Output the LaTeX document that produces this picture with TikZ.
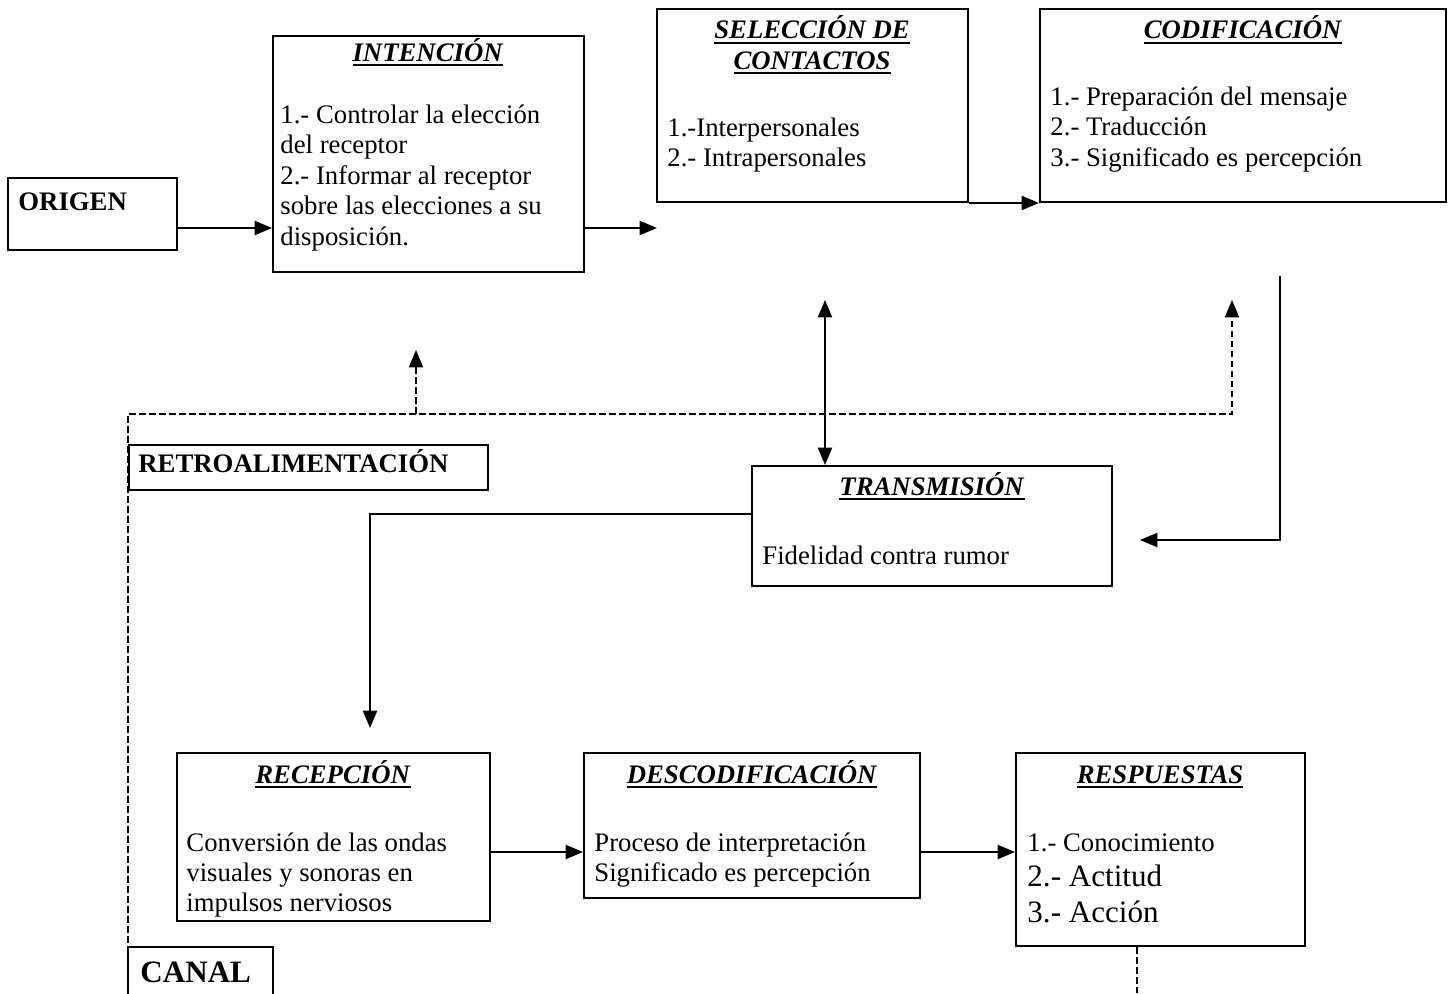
\documentclass[tikz,border=0pt]{standalone}
\usepackage{fontspec}
\setmainfont{Liberation Serif}
\usetikzlibrary{arrows.meta,fit}
\newcommand{\ttl}[1]{\vtop{\hbox{\textbf{\textit{#1}}}\kern1.3pt\hrule height 1pt}}
\begin{document}
\begin{tikzpicture}[x=0.46pt,y=-0.46pt,
  box/.style={draw,line width=0.9pt,inner sep=0pt},
  txt/.style={anchor=base west,inner sep=0pt,font=\fontsize{12.3}{14}\selectfont},
  bigtxt/.style={anchor=base west,inner sep=0pt,font=\fontsize{14.3}{16}\selectfont},
  ttlnode/.style={anchor=base,inner sep=0pt,font=\fontsize{12.3}{14}\selectfont},
  conn/.style={line width=0.9pt},
  tip/.style={-{Triangle[length=8pt,width=6.5pt]}},
  arr/.style={conn,tip},
  darr/.style={conn,{Triangle[length=8pt,width=6.5pt]}-{Triangle[length=8pt,width=6.5pt]}},
  fb/.style={line width=0.7pt,dash pattern=on 3pt off 1.6pt}
]
\useasboundingbox (0,0) rectangle (1448,993);

% boxes
\node[box,fit={(8,178) (177,250)}] (origen) {};
\node[box,fit={(273,36) (584,272)}] (intencion) {};
\node[box,fit={(657,9) (968,202)}] (seleccion) {};
\node[box,fit={(1040,9) (1446,202)}] (codif) {};
\node[box,fit={(129,445) (488,490)}] (retro) {};
\node[box,fit={(752,466) (1112,586)}] (transm) {};
\node[box,fit={(177,753) (490,921)}] (recep) {};
\node[box,fit={(584,753) (920,898)}] (descod) {};
\node[box,fit={(1016,753) (1305,946)}] (resp) {};
\node[box,fit={(128,947) (273,1010)}] (canal) {};

% texts
\node[txt,font=\fontsize{12.3}{14}\selectfont\bfseries] (t-origen) at (18,210) {ORIGEN};

\node[ttlnode] (t-int) at (428,61) {\ttl{INTENCIÓN}};
\foreach \t [count=\i] in {1.- Controlar la elección, del receptor, 2.- Informar al receptor, sobre las elecciones a su, disposición.}
  \node[txt] (int-\i) at (280,{123+30.5*(\i-1)}) {\t};

\node[ttlnode] (t-sel1) at (812,39) {\ttl{SELECCIÓN DE}};
\node[ttlnode] (t-sel2) at (812,69) {\ttl{CONTACTOS}};
\node[txt] (sel-1) at (667,136) {1.-Interpersonales};
\node[txt] (sel-2) at (667,166) {2.- Intrapersonales};

\node[ttlnode] (t-cod) at (1243,39) {\ttl{CODIFICACIÓN}};
\foreach \t [count=\i] in {1.- Preparación del mensaje, 2.- Traducción, 3.- Significado es percepción}
  \node[txt] (cod-\i) at (1050,{105+30.5*(\i-1)}) {\t};

\node[txt,font=\fontsize{12.3}{14}\selectfont\bfseries] (t-retro) at (138,472) {RETROALIMENTACIÓN};

\node[ttlnode] (t-tr) at (932,495) {\ttl{TRANSMISIÓN}};
\node[txt] (tr-1) at (762,564) {Fidelidad contra rumor};

\node[ttlnode] (t-rec) at (333,783) {\ttl{RECEPCIÓN}};
\foreach \t [count=\i] in {Conversión de las ondas, visuales y sonoras en, impulsos nerviosos}
  \node[txt] (rec-\i) at (186,{851+30*(\i-1)}) {\t};

\node[ttlnode] (t-des) at (752,783) {\ttl{DESCODIFICACIÓN}};
\node[txt] (des-1) at (594,851) {Proceso de interpretación};
\node[txt] (des-2) at (594,881) {Significado es percepción};

\node[ttlnode] (t-resp) at (1160,783) {\ttl{RESPUESTAS}};
\node[txt] (resp-1) at (1027,851) {1.- Conocimiento};
\node[bigtxt] (resp-2) at (1027,886) {2.- Actitud};
\node[bigtxt] (resp-3) at (1027,922) {3.- Acción};

\node[bigtxt,font=\fontsize{14.3}{16}\selectfont\bfseries] (t-canal) at (140,982) {CANAL};

% connectors
\coordinate (yA) at (0,228);
\coordinate (selIn) at (657,228);
\draw[arr] (origen.east |- yA) -- (intencion.west |- yA);
\draw[arr] (intencion.east |- yA) -- (selIn);
\draw[arr] (seleccion.south east) -- (codif.south west);

\coordinate (codOut) at (1280,276);
\coordinate (trIn) at (1140,540);
\draw[arr] (codOut) |- (trIn);

\coordinate (selLink) at (825,300);
\draw[darr] (selLink) -- (transm.north -| selLink);

\coordinate (yT) at (0,514);
\coordinate (recIn) at (370,728);
\draw[arr] (transm.west |- yT) -| (recIn);

\coordinate (yB) at (0,852);
\draw[arr] (recep.east |- yB) -- (descod.west |- yB);
\draw[arr] (descod.east |- yB) -- (resp.west |- yB);

% feedback (dashed)
\coordinate (fbBot) at (128,993);
\coordinate (fbCorner) at (128,414);
\coordinate (fbCod) at (1232,300);
\coordinate (fbInt) at (416,350);
\draw[fb,tip] (fbBot) -- (fbCorner) -| (fbCod);
\draw[fb,tip] (fbInt |- fbCorner) -- (fbInt);
\coordinate (respOut) at (1137,993);
\draw[fb] (resp.south -| respOut) -- (respOut);
\end{tikzpicture}
\end{document}
